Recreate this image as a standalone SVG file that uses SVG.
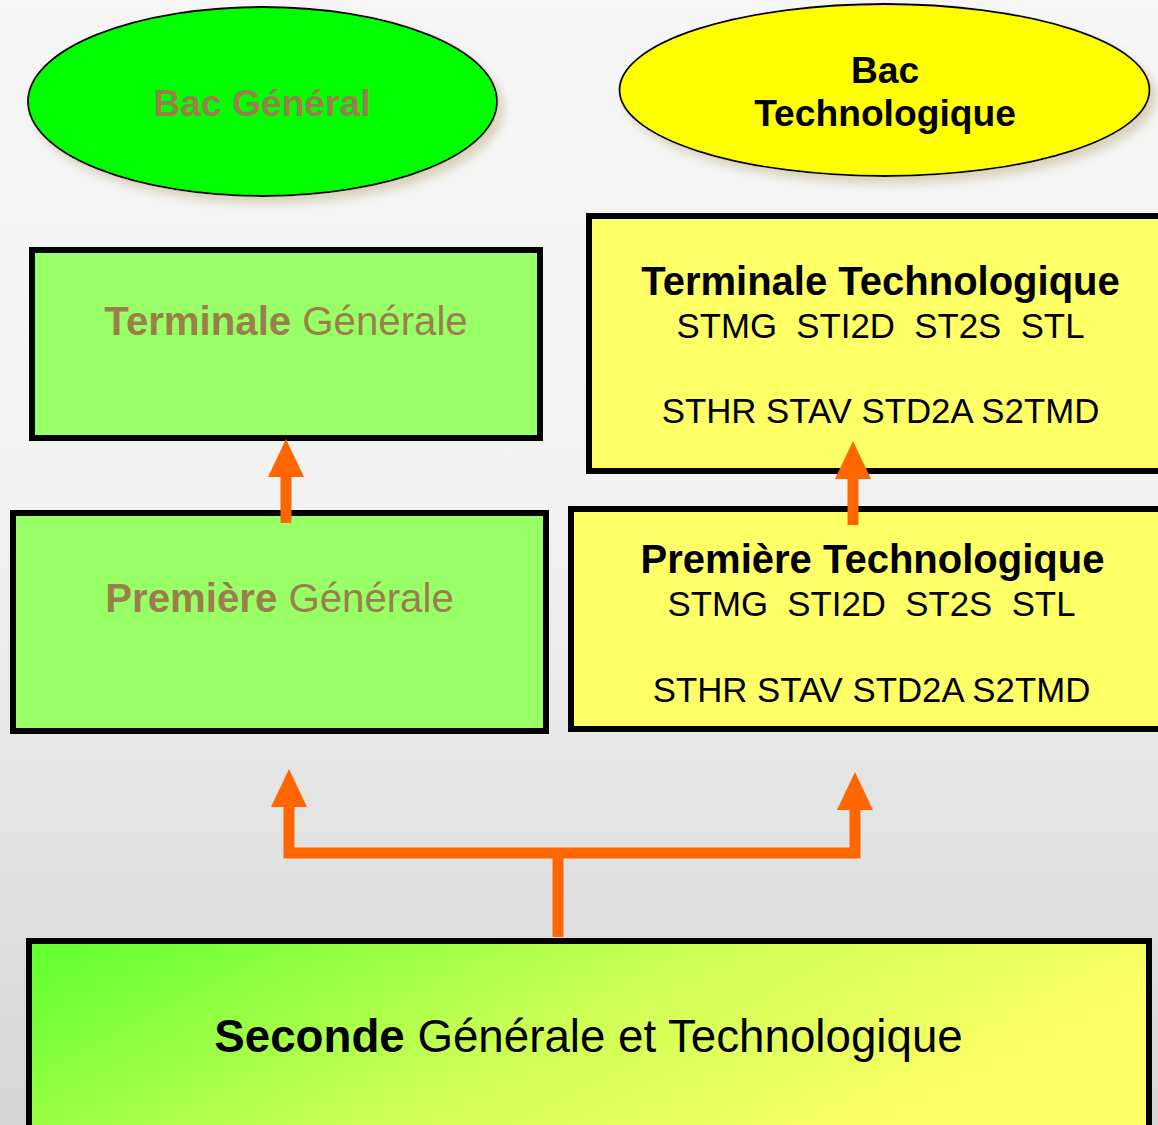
<svg xmlns="http://www.w3.org/2000/svg" width="1158" height="1125" viewBox="0 0 1158 1125">
<style>
.t{font-family:"Liberation Sans",Arial,sans-serif;text-anchor:middle}
.b{font-weight:bold}
.brown{fill:#9a7f4b}
.blk{fill:#000}
.box{stroke:#000;stroke-width:6}
.ell{stroke:#000;stroke-width:1.8}
.conn{fill:none;stroke:#ff6600;stroke-width:11;stroke-linejoin:miter}
</style>
<defs>
<linearGradient id="bg" x1="0" y1="0" x2="0" y2="1">
<stop offset="0" stop-color="#f6f6f6"/>
<stop offset="0.45" stop-color="#f2f2f2"/>
<stop offset="1" stop-color="#d5d5d5"/>
</linearGradient>
<linearGradient id="sec" x1="0" y1="0" x2="1" y2="0.35">
<stop offset="0.05" stop-color="#66ff33"/>
<stop offset="0.55" stop-color="#ccff55"/>
<stop offset="1" stop-color="#ffff66"/>
</linearGradient>
<filter id="sh" x="-10%" y="-10%" width="125%" height="130%">
<feDropShadow dx="6" dy="7" stdDeviation="5" flood-color="#b8a878" flood-opacity="0.45"/>
</filter>
<marker id="ah" viewBox="0 0 38 36" refX="1" refY="18" markerWidth="38" markerHeight="36" markerUnits="userSpaceOnUse" orient="auto">
<path d="M0,0 L38,18 L0,36 z" fill="#ff6600"/>
</marker>
</defs>
<rect width="1158" height="1125" fill="url(#bg)"/>

<g id="bac-general">
<ellipse class="ell" cx="262.5" cy="101.5" rx="234.5" ry="94.5" fill="#00ff00" filter="url(#sh)"/>
<text class="t b brown" x="262" y="116" font-size="37.2">Bac Général</text>
</g>

<g id="bac-technologique">
<ellipse class="ell" cx="884.5" cy="90" rx="265" ry="86" fill="#ffff00" filter="url(#sh)"/>
<text class="t b blk" x="885" y="83" font-size="37.2">Bac</text>
<text class="t b blk" x="885" y="126" font-size="37.2">Technologique</text>
</g>

<g id="terminale-generale">
<rect class="box" x="32" y="250" width="508" height="188" fill="#99ff66"/>
<text class="t brown" x="286" y="335" font-size="40.2"><tspan class="b">Terminale</tspan> Générale</text>
</g>

<g id="terminale-technologique">
<rect class="box" x="589" y="216" width="590" height="255" fill="#ffff66"/>
<text class="t b blk" x="880.5" y="295" font-size="40">Terminale Technologique</text>
<text class="t blk" x="880.5" y="338" font-size="34.8" xml:space="preserve">STMG  STI2D  ST2S  STL</text>
<text class="t blk" x="880.5" y="423" font-size="34.8">STHR STAV STD2A S2TMD</text>
</g>

<g id="premiere-generale">
<rect class="box" x="13" y="513" width="533" height="218" fill="#99ff66"/>
<text class="t brown" x="279.5" y="612" font-size="40.2"><tspan class="b">Première</tspan> Générale</text>
</g>

<g id="premiere-technologique">
<rect class="box" x="571" y="509" width="600" height="220" fill="#ffff66"/>
<text class="t b blk" x="872.5" y="573" font-size="40">Première Technologique</text>
<text class="t blk" x="871.5" y="616" font-size="34.8" xml:space="preserve">STMG  STI2D  ST2S  STL</text>
<text class="t blk" x="871.5" y="702" font-size="34.8">STHR STAV STD2A S2TMD</text>
</g>

<g id="seconde">
<rect class="box" x="29" y="941" width="1120" height="200" fill="url(#sec)"/>
<text class="t blk" x="588.5" y="1052" font-size="45.7"><tspan class="b">Seconde</tspan> Générale et Technologique</text>
</g>

<g id="connectors">
<path class="conn" d="M286,523 V476" marker-end="url(#ah)"/>
<path class="conn" d="M853,525 V478" marker-end="url(#ah)"/>
<path class="conn" d="M558,937 V853"/>
<path class="conn" d="M558,853 H289 V806" marker-end="url(#ah)"/>
<path class="conn" d="M558,853 H855 V809" marker-end="url(#ah)"/>
</g>
</svg>
